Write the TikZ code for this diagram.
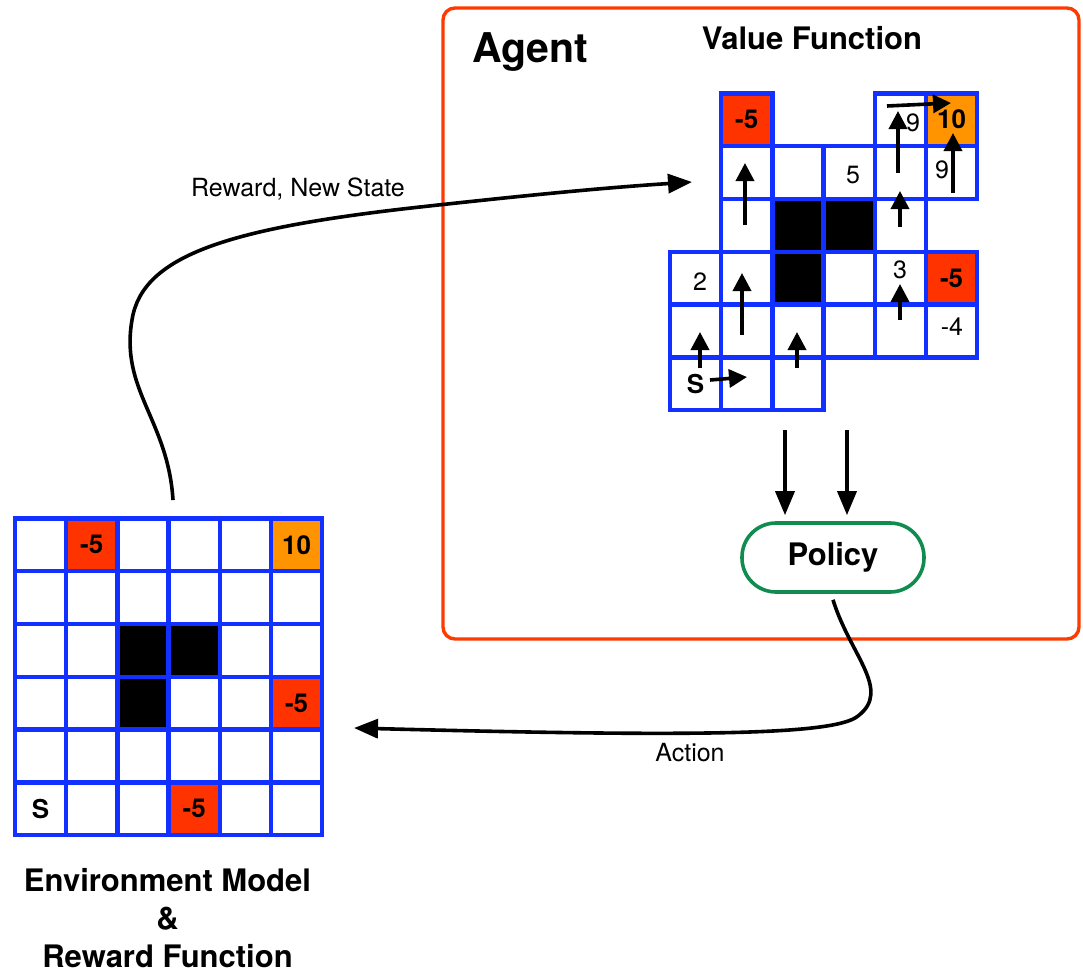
\documentclass[tikz,border=0pt]{standalone}
\usepackage{fontspec}
\setmainfont{TeX Gyre Heros}
\usetikzlibrary{arrows.meta, positioning}

\definecolor{gridblue}{RGB}{18,48,255}
\definecolor{penred}{RGB}{255,51,0}
\definecolor{goalorange}{RGB}{255,148,0}
\definecolor{agentred}{RGB}{255,58,0}
\definecolor{policygreen}{RGB}{16,140,80}

\tikzset{
  gcell/.style={draw=gridblue, line width=2.2pt, fill=white, inner sep=0pt,
    minimum width=25.6pt, minimum height=26.4pt,
    font=\fontsize{13}{15}\selectfont\bfseries},
  wall/.style={fill=black},
  penalty/.style={fill=penred},
  goal/.style={fill=goalorange},
  plaincell/.style={},
  val/.style={inner sep=0pt, font=\fontsize{12.5}{15}\selectfont},
  move/.style={line width=1.8pt, -{Triangle[length=9pt,width=9pt]}},
  flow/.style={line width=1.8pt, -{Triangle[length=12pt,width=9.5pt]}},
  heading/.style={inner sep=0pt, font=\fontsize{15.5}{19}\selectfont\bfseries},
  edgelbl/.style={inner sep=0pt, font=\fontsize{12.5}{15}\selectfont},
  policybox/.style={draw=policygreen, line width=1.8pt, rounded corners=17pt,
    minimum width=91pt, minimum height=34.5pt, heading}
}

\begin{document}
\begin{tikzpicture}[x=0.5pt, y=-0.5pt]
  \useasboundingbox (0,0) rectangle (1083,975);

  % agent frame
  \draw[agentred, line width=1.7pt, rounded corners=6pt] (443,8) rectangle (1079,639);
  \node[heading, anchor=base, font=\fontsize{20.5}{24}\selectfont\bfseries] (agentlbl) at (530,62) {Agent};
  \node[heading, anchor=base] (vflbl) at (812,49) {Value Function};

  % environment grid
  \foreach \r in {0,...,5}
    \foreach \c in {0,...,5}
      \node[gcell] (e-\r-\c) at ({15+51.2*(\c+0.5)},{518.3+52.8*(\r+0.5)}) {};
  \foreach \r/\c/\kind/\txt in {0/1/penalty/-5, 0/5/goal/10, 2/2/wall/, 2/3/wall/,
      3/2/wall/, 3/5/penalty/-5, 5/3/penalty/-5, 5/0/plaincell/S}
    \node[gcell, \kind] (e-\r-\c) at ({15+51.2*(\c+0.5)},{518.3+52.8*(\r+0.5)}) {\txt};
  \node[heading, anchor=north, align=center] (envlbl) at (167.5,868)
    {Environment Model\\\&\\Reward Function};

  % value function grid
  \foreach \r/\c in {0/1,0/4,0/5,1/1,1/2,1/3,1/4,1/5,2/1,2/2,2/3,2/4,
      3/0,3/1,3/2,3/3,3/4,3/5,4/0,4/1,4/2,4/3,4/4,4/5,5/0,5/1,5/2}
    \node[gcell] (a-\r-\c) at ({670+51.2*(\c+0.5)},{93.3+52.8*(\r+0.5)}) {};
  \foreach \r/\c/\kind/\txt in {0/1/penalty/-5, 0/5/goal/10, 2/2/wall/, 2/3/wall/,
      3/2/wall/, 3/5/penalty/-5, 5/0/plaincell/S}
    \node[gcell, \kind] (a-\r-\c) at ({670+51.2*(\c+0.5)},{93.3+52.8*(\r+0.5)}) {\txt};

  \node[val] (v-0-4) at (913,123) {9};
  \node[val] (v-1-3) at (853,175) {5};
  \node[val] (v-1-5) at (942,170) {9};
  \node[val] (v-3-0) at (700,282) {2};
  \node[val] (v-3-4) at (900,270) {3};
  \node[val] (v-4-5) at (952,327) {-4};

  % greedy moves
  \foreach \i/\xa/\ya/\xb/\yb in {1/887/106/951/103, 2/898/173/898/111, 3/953/193/953/133,
      4/900/227/900/191, 5/900/320/900/284, 6/745/225/745/163, 7/742/335/742/273,
      8/700/368/700/332, 9/797/368/797/332, 10/710/380/747/377}
  {
    \coordinate (t\i) at (\xa,\ya);
    \coordinate (h\i) at (\xb,\yb);
    \draw[move] (t\i) -- (h\i);
  }

  % policy
  \node[policybox] (policy) at (833,557.5) {Policy};
  \coordinate (vf1) at (785,430);
  \coordinate (vf2) at (847,430);
  \draw[flow, shorten >=3pt] (vf1) -- (vf1 |- policy.north);
  \draw[flow, shorten >=3pt] (vf2) -- (vf2 |- policy.north);

  % loop between environment and agent
  \coordinate (rwstart) at (173,500);
  \coordinate (rwend) at (692,182);
  \draw[flow] (rwstart) .. controls (168,420) and (120,390) .. (132,320)
    .. controls (142,255) and (230,228) .. (420,207)
    .. controls (520,196) and (600,188) .. (rwend);
  \node[edgelbl, anchor=base] (rwlbl) at (298,196) {Reward, New State};

  \coordinate (actend) at (354,728);
  \draw[flow] ([yshift=-3pt]policy.south) .. controls (850,655) and (892,690) .. (858,716)
    .. controls (835,735) and (700,737) .. (actend);
  \node[edgelbl, anchor=base] (actlbl) at (690,761) {Action};
\end{tikzpicture}
\end{document}
